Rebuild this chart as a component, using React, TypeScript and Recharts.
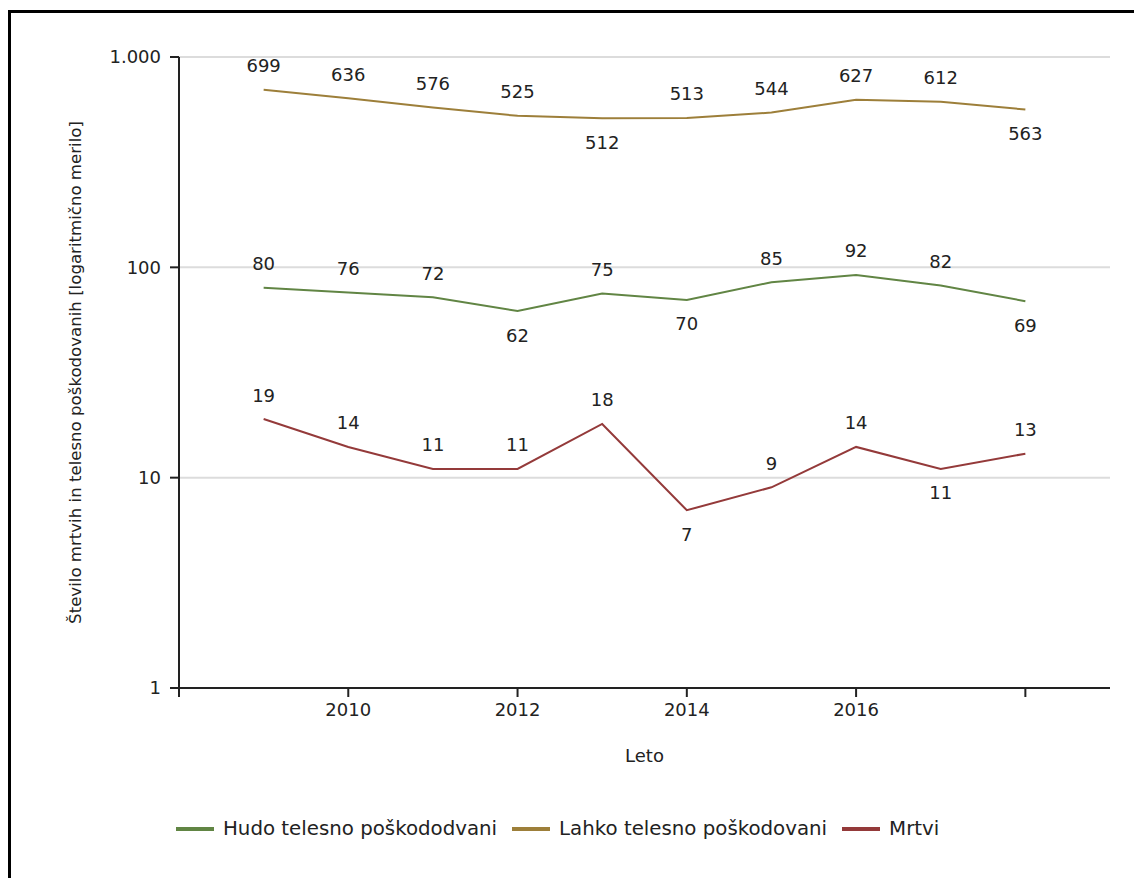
import React from "react";
import {
  LineChart,
  Line,
  XAxis,
  YAxis,
  CartesianGrid,
  LabelList,
  Label,
} from "recharts";

const years = [2009, 2010, 2011, 2012, 2013, 2014, 2015, 2016, 2017, 2018];
const hudo = [80, 76, 72, 62, 75, 70, 85, 92, 82, 69];
const lahko = [699, 636, 576, 525, 512, 513, 544, 627, 612, 563];
const mrtvi = [19, 14, 11, 11, 18, 7, 9, 14, 11, 13];

const xTicks = [2008, 2010, 2012, 2014, 2016, 2018];
const yTicks = [1, 10, 100, 1000];

const FONT = "'DejaVu Sans', sans-serif";
const TEXT = "#222";

const series = [
  { key: "hudo", name: "Hudo telesno poškododvani", color: "#618544", values: hudo },
  { key: "lahko", name: "Lahko telesno poškodovani", color: "#9d7f3a", values: lahko },
  { key: "mrtvi", name: "Mrtvi", color: "#943a3a", values: mrtvi },
];

const data = years.map((year, i) => ({
  year,
  hudo: hudo[i],
  lahko: lahko[i],
  mrtvi: mrtvi[i],
}));

// label goes under the point when it is a local minimum
function makeValueLabel(values: number[]) {
  return (props: any) => {
    const { x, y, value, index } = props;
    const prev = values[index - 1];
    const next = values[index + 1];
    const below =
      (prev === undefined || value < prev) && (next === undefined || value < next);
    return (
      <text
        x={x}
        y={below ? y + 24 : y - 24}
        textAnchor="middle"
        dominantBaseline="central"
        fontSize={18}
        fontFamily={FONT}
        fill={TEXT}
      >
        {value}
      </text>
    );
  };
}

const fmtY = (v: number) => v.toLocaleString("de-DE");
const fmtX = (v: number) => (v === 2008 || v === 2018 ? "" : String(v));

export default function App() {
  return (
    <div
      style={{
        position: "fixed",
        inset: 0,
        overflow: "hidden",
        background: "#fff",
      }}
    >
      <div
        style={{
          position: "absolute",
          left: 8,
          top: 10,
          width: 1200,
          height: 1000,
          border: "3px solid #000",
        }}
      />
      <div style={{ position: "absolute", left: 0, top: 0 }}>
        <LineChart
          width={1134}
          height={878}
          data={data}
          margin={{ top: 57, right: 24, left: 49, bottom: 110 }}
        >
          <CartesianGrid horizontal vertical={false} stroke="#dcdcdc" strokeWidth={2} />
          <XAxis
            dataKey="year"
            type="number"
            domain={[2008, 2019]}
            ticks={xTicks}
            interval={0}
            tickFormatter={fmtX}
            height={80}
            tickSize={9}
            tickMargin={6}
            stroke="#222"
            strokeWidth={2}
            tick={{ fill: TEXT, fontSize: 18, fontFamily: FONT }}
          >
            <Label
              value="Leto"
              position="insideBottom"
              offset={6}
              style={{ fill: TEXT, fontSize: 18, fontFamily: FONT }}
            />
          </XAxis>
          <YAxis
            scale="log"
            domain={[1, 1000]}
            ticks={yTicks}
            interval={0}
            tickFormatter={fmtY}
            width={130}
            tickSize={9}
            tickMargin={9}
            stroke="#222"
            strokeWidth={2}
            tick={{ fill: TEXT, fontSize: 18, fontFamily: FONT }}
          >
            <Label
              value="Število mrtvih in telesno poškodovanih [logaritmično merilo]"
              angle={-90}
              position="insideLeft"
              offset={26}
              style={{ fill: TEXT, fontSize: 16.6, fontFamily: FONT, textAnchor: "middle" }}
            />
          </YAxis>
          {series.map((s) => (
            <Line
              key={s.key}
              type="linear"
              dataKey={s.key}
              name={s.name}
              stroke={s.color}
              strokeWidth={2}
              dot={false}
              activeDot={false}
              isAnimationActive={false}
            >
              <LabelList dataKey={s.key} content={makeValueLabel(s.values)} />
            </Line>
          ))}
        </LineChart>
      </div>
      <div
        style={{
          position: "absolute",
          left: 176,
          top: 817,
          display: "flex",
          alignItems: "center",
          fontFamily: FONT,
          fontSize: 19.8,
          color: TEXT,
          whiteSpace: "nowrap",
        }}
      >
        {series.map((s) => (
          <div key={s.key} style={{ display: "flex", alignItems: "center", marginRight: 15 }}>
            <div style={{ width: 38, height: 4, background: s.color, marginRight: 9 }} />
            <span>{s.name}</span>
          </div>
        ))}
      </div>
    </div>
  );
}
